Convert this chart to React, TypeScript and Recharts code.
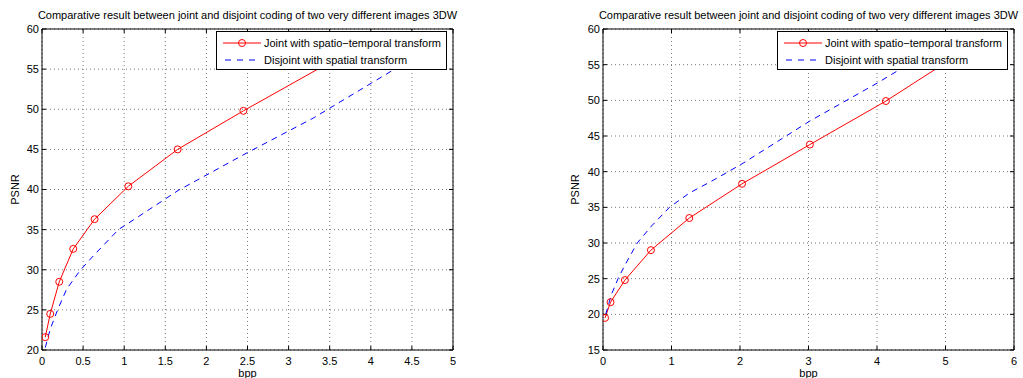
import React from 'react';
import { LineChart, Line, XAxis, YAxis, CartesianGrid, Legend } from 'recharts';

const TITLE = 'Comparative result between joint and disjoint coding of two very different images 3DW';
const JOINT_NAME = 'Joint with spatio\u2212temporal transform';
const DISJOINT_NAME = 'Disjoint with spatial transform';
const SERIES_ORDER = [JOINT_NAME, DISJOINT_NAME];
const X_LABEL = 'bpp';
const Y_LABEL = 'PSNR';

// Left panel
const leftXTicks = [0, 0.5, 1, 1.5, 2, 2.5, 3, 3.5, 4, 4.5, 5];
const leftYTicks = [20, 25, 30, 35, 40, 45, 50, 55, 60];
const leftJointBpp = [0.04, 0.1, 0.21, 0.38, 0.64, 1.05, 1.65, 2.45, 3.6];
const leftJointPsnr = [21.6, 24.5, 28.5, 32.6, 36.3, 40.4, 45.0, 49.8, 56.4];
const leftDisjointBpp = [0.04, 0.1, 0.19, 0.3, 0.47, 0.64, 0.93, 1.11, 1.66, 2.5, 3.3, 4.29, 4.9];
const leftDisjointPsnr = [20.3, 22.6, 25.0, 27.6, 30.0, 31.9, 35.0, 36.2, 39.9, 44.6, 48.9, 55.0, 58.6];

// Right panel
const rightXTicks = [0, 1, 2, 3, 4, 5, 6];
const rightYTicks = [15, 20, 25, 30, 35, 40, 45, 50, 55, 60];
const rightJointBpp = [0.03, 0.11, 0.32, 0.7, 1.26, 2.03, 3.02, 4.13, 5.2];
const rightJointPsnr = [19.5, 21.7, 24.8, 29.0, 33.5, 38.3, 43.8, 49.9, 56.5];
const rightDisjointBpp = [0.04, 0.12, 0.22, 0.32, 0.5, 0.71, 0.97, 1.26, 1.61, 2.03, 3.02, 4.0, 4.9];
const rightDisjointPsnr = [20.0, 22.7, 25.0, 26.9, 30.0, 32.4, 35.0, 37.0, 38.8, 41.1, 47.1, 52.4, 57.6];

const FONT = '"Liberation Sans", Arial, Helvetica, sans-serif';

const zip = (xs: number[], ys: number[]) => xs.map((x, i) => ({ bpp: x, psnr: ys[i] }));

const EmptyTick = () => <g />;

const LegendBox = (props: any) => {
  const payload = [...(props.payload || [])].sort(
    (a: any, b: any) => SERIES_ORDER.indexOf(a.value) - SERIES_ORDER.indexOf(b.value)
  );
  return (
    <div
      style={{
        width: 231,
        height: 39,
        boxSizing: 'border-box',
        border: '1px solid #000',
        background: '#fff',
        fontFamily: FONT,
        fontSize: 11,
        color: '#000',
        position: 'relative',
      }}
    >
      {payload.map((e: any, i: number) => {
        const dashed = e.value === DISJOINT_NAME;
        return (
          <div
            key={i}
            style={{
              position: 'absolute',
              left: 6,
              top: 4 + i * 17.3,
              height: 14,
              display: 'flex',
              alignItems: 'center',
              whiteSpace: 'nowrap',
            }}
          >
            <svg width={38} height={12} style={{ display: 'block' }}>
              <line
                x1={dashed ? 2 : 0}
                y1={6}
                x2={dashed ? 36 : 38}
                y2={6}
                stroke={e.color}
                strokeWidth={1}
                strokeDasharray={dashed ? '6 6' : undefined}
              />
              {!dashed && <circle cx={19} cy={6} r={3.5} fill="none" stroke={e.color} strokeWidth={1} />}
            </svg>
            <span style={{ marginLeft: 3, lineHeight: '14px' }}>{e.value}</span>
          </div>
        );
      })}
    </div>
  );
};

type PanelProps = {
  width: number;
  yAxisWidth: number;
  marginRight: number;
  xMax: number;
  xTicks: number[];
  yMin: number;
  yTicks: number[];
  joint: { bpp: number; psnr: number }[];
  disjoint: { bpp: number; psnr: number }[];
  yLabelOffset: number;
  legendLeft: number;
};

const Panel = (p: PanelProps) => {
  const xDomain: [number, number] = [0, p.xMax];
  const yDomain: [number, number] = [p.yMin, 60];
  const tickStyle = { fill: '#000', fontSize: 11, fontFamily: FONT };
  const plotLeft = p.yAxisWidth;
  const plotWidth = p.width - p.yAxisWidth - p.marginRight;
  return (
    <div style={{ position: 'relative', width: p.width, height: 378 }}>
      <div
        style={{
          position: 'absolute',
          left: plotLeft - 40,
          width: plotWidth + 80,
          top: 10,
          textAlign: 'center',
          fontSize: 11,
          lineHeight: '11px',
          fontFamily: FONT,
          color: '#000',
          whiteSpace: 'nowrap',
        }}
      >
        {TITLE}
      </div>
      <LineChart width={p.width} height={378} margin={{ top: 29, right: p.marginRight, bottom: 0, left: 0 }}>
        <CartesianGrid stroke="#777" strokeDasharray="1 3" strokeWidth={1} />
        <XAxis
          xAxisId={0}
          type="number"
          dataKey="bpp"
          domain={xDomain}
          ticks={p.xTicks}
          interval={0}
          allowDataOverflow
          height={28}
          tickSize={0}
          tickMargin={7}
          tickLine={false}
          axisLine={{ stroke: '#000', strokeWidth: 1 }}
          tick={tickStyle}
          label={{ value: X_LABEL, position: 'insideBottom', offset: 1, fill: '#000', fontSize: 11, fontFamily: FONT }}
        />
        <XAxis
          xAxisId="bm"
          type="number"
          dataKey="bpp"
          orientation="bottom"
          mirror
          domain={xDomain}
          ticks={p.xTicks}
          interval={0}
          allowDataOverflow
          height={10}
          tickSize={4}
          tickLine={{ stroke: '#000' }}
          axisLine={false}
          tick={EmptyTick}
        />
        <XAxis
          xAxisId="tm"
          type="number"
          dataKey="bpp"
          orientation="top"
          mirror
          domain={xDomain}
          ticks={p.xTicks}
          interval={0}
          allowDataOverflow
          height={10}
          tickSize={4}
          tickLine={{ stroke: '#000' }}
          axisLine={{ stroke: '#000', strokeWidth: 1 }}
          tick={EmptyTick}
        />
        <YAxis
          yAxisId={0}
          type="number"
          dataKey="psnr"
          domain={yDomain}
          ticks={p.yTicks}
          interval={0}
          allowDataOverflow
          width={p.yAxisWidth}
          tickSize={0}
          tickMargin={3}
          tickLine={false}
          axisLine={{ stroke: '#000', strokeWidth: 1 }}
          tick={tickStyle}
          label={{
            value: Y_LABEL,
            angle: -90,
            position: 'insideLeft',
            offset: p.yLabelOffset,
            fill: '#000',
            fontSize: 11,
            fontFamily: FONT,
            style: { textAnchor: 'middle' },
          }}
        />
        <YAxis
          yAxisId="lm"
          type="number"
          dataKey="psnr"
          orientation="left"
          mirror
          domain={yDomain}
          ticks={p.yTicks}
          interval={0}
          allowDataOverflow
          width={10}
          tickSize={4}
          tickLine={{ stroke: '#000' }}
          axisLine={false}
          tick={EmptyTick}
        />
        <YAxis
          yAxisId="rm"
          type="number"
          dataKey="psnr"
          orientation="right"
          mirror
          domain={yDomain}
          ticks={p.yTicks}
          interval={0}
          allowDataOverflow
          width={10}
          tickSize={4}
          tickLine={{ stroke: '#000' }}
          axisLine={{ stroke: '#000', strokeWidth: 1 }}
          tick={EmptyTick}
        />
        <Line
          data={p.joint}
          dataKey="psnr"
          name={JOINT_NAME}
          xAxisId={0}
          yAxisId={0}
          type="linear"
          stroke="#ff0000"
          strokeWidth={1}
          dot={{ r: 3.5, stroke: '#ff0000', strokeWidth: 1, fill: 'none' }}
          activeDot={false}
          isAnimationActive={false}
        />
        <Line
          data={p.disjoint}
          dataKey="psnr"
          name={DISJOINT_NAME}
          xAxisId={0}
          yAxisId={0}
          type="linear"
          stroke="#0000ff"
          strokeWidth={1}
          strokeDasharray="6 5"
          dot={false}
          activeDot={false}
          isAnimationActive={false}
        />
        <Legend
          layout="vertical"
          align="center"
          verticalAlign="middle"
          content={LegendBox}
          wrapperStyle={{ position: 'absolute', left: p.legendLeft, top: 31, width: 231, height: 39 }}
        />
      </LineChart>
    </div>
  );
};

export default function App() {
  return (
    <div style={{ position: 'relative', width: 1023, height: 378, fontFamily: FONT, background: '#fff', overflow: 'hidden' }}>
      <style>{'body{margin:0;background:#fff;}'}</style>
      <div style={{ position: 'absolute', left: 0, top: 0 }}>
        <Panel
          width={470}
          yAxisWidth={42}
          marginRight={17}
          xMax={5}
          xTicks={leftXTicks}
          yMin={20}
          yTicks={leftYTicks}
          joint={zip(leftJointBpp, leftJointPsnr)}
          disjoint={zip(leftDisjointBpp, leftDisjointPsnr)}
          yLabelOffset={15}
          legendLeft={216}
        />
      </div>
      <div style={{ position: 'absolute', left: 540, top: 0 }}>
        <Panel
          width={483}
          yAxisWidth={63}
          marginRight={9}
          xMax={6}
          xTicks={rightXTicks}
          yMin={15}
          yTicks={rightYTicks}
          joint={zip(rightJointBpp, rightJointPsnr)}
          disjoint={zip(rightDisjointBpp, rightDisjointPsnr)}
          yLabelOffset={35}
          legendLeft={237}
        />
      </div>
    </div>
  );
}
